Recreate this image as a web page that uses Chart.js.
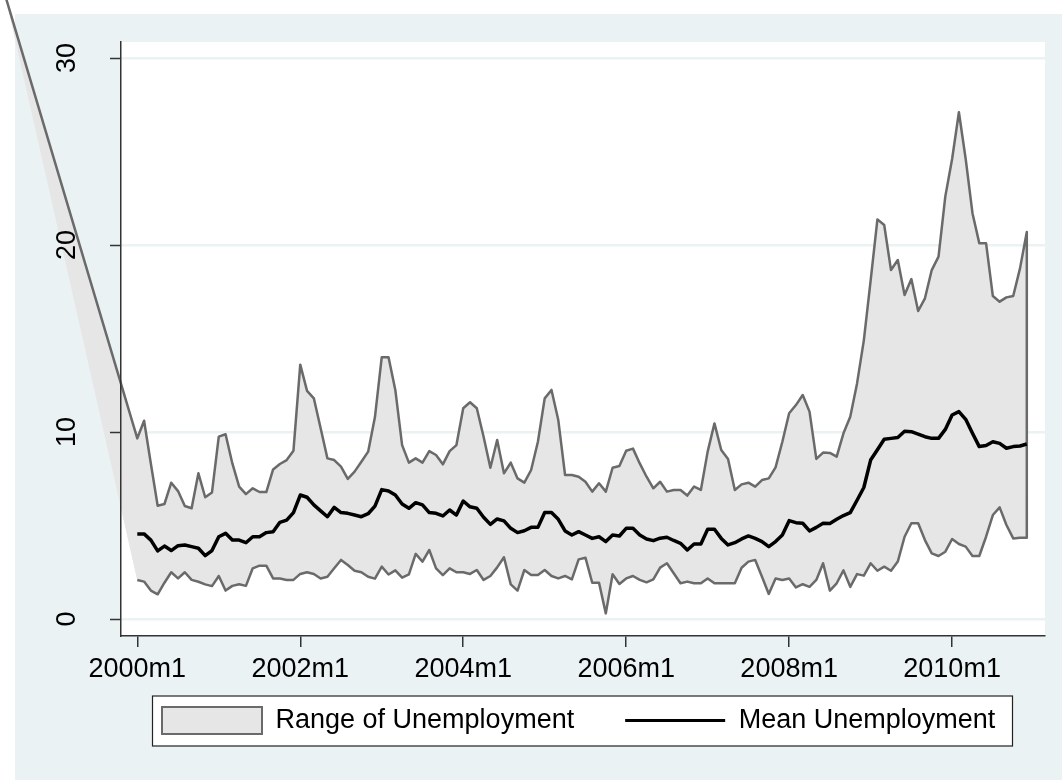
<!DOCTYPE html>
<html>
<head>
<meta charset="utf-8">
<script src="https://cdn.jsdelivr.net/npm/chart.js@4/dist/chart.umd.min.js"></script>
<style>
html,body{margin:0;padding:0;background:#fff;overflow:hidden}
#wrap{width:1062px;height:780px}
</style>
</head>
<body>
<div id="wrap"><canvas id="c" width="1062" height="780"></canvas></div>
<script>
// ---- data (monthly, 2000m1 .. 2010m12) ----
const upperUnemp = [
  9.66,10.6,8.3,6.06,6.15,7.29,6.84,6.04,5.92,7.79,6.51,6.77,
  9.75,9.88,8.32,7.08,6.68,6.99,6.79,6.79,8.0,8.29,8.5,9.0,
  13.6,12.2,11.8,10.2,8.59,8.5,8.15,7.49,7.88,8.41,8.95,10.8,
  14.0,14.0,12.25,9.3,8.36,8.59,8.36,8.98,8.77,8.27,8.98,9.3,
  11.27,11.59,11.27,9.75,8.09,9.57,7.79,8.36,7.52,7.29,7.97,9.48,
  11.8,12.25,10.64,7.7,7.7,7.61,7.34,6.81,7.26,6.81,8.09,8.18,
  9.0,9.11,8.32,7.61,6.99,7.34,6.81,6.9,6.9,6.6,7.08,6.9,
  8.95,10.46,9.04,8.56,6.9,7.2,7.29,7.08,7.43,7.52,8.11,9.48,
  11.0,11.44,11.98,11.09,8.56,8.9,8.88,8.68,9.93,10.82,12.6,14.9,
  18.1,21.37,21.07,18.66,19.2,17.33,18.18,16.47,17.15,18.66,19.38,22.6,
  24.6,27.1,24.6,21.7,20.1,20.1,17.27,16.97,17.2,17.27,18.75,20.7
];
const lowerUnemp = [
  2.09,2.0,1.52,1.32,1.94,2.5,2.17,2.5,2.09,1.99,1.85,1.76,
  2.3,1.52,1.77,1.86,1.77,2.71,2.85,2.85,2.17,2.17,2.09,2.09,
  2.41,2.5,2.41,2.17,2.26,2.71,3.16,2.89,2.58,2.5,2.26,2.16,
  2.8,2.38,2.6,2.21,2.39,3.48,3.07,3.69,2.71,2.35,2.71,2.5,
  2.5,2.41,2.62,2.09,2.3,2.76,3.3,1.85,1.52,2.62,2.35,2.35,
  2.62,2.3,2.17,2.3,2.12,3.19,3.28,1.94,1.94,0.3,2.39,1.87,
  2.17,2.3,2.09,1.96,2.12,2.75,2.98,2.45,1.91,2.0,1.91,1.91,
  2.17,1.91,1.91,1.91,1.91,2.74,3.07,3.16,2.26,1.34,2.17,2.09,
  2.17,1.69,1.86,1.72,2.09,2.98,1.52,1.91,2.6,1.72,2.4,2.32,
  2.98,2.58,2.8,2.58,3.07,4.4,5.12,5.12,4.22,3.51,3.37,3.6,
  4.28,4.01,3.87,3.37,3.37,4.4,5.56,5.97,5.03,4.31,4.35,4.35
];
const meanUnemp = [
  4.55,4.55,4.22,3.64,3.9,3.66,3.92,3.96,3.87,3.78,3.39,3.66,
  4.4,4.58,4.22,4.22,4.08,4.4,4.4,4.62,4.67,5.17,5.29,5.69,
  6.63,6.51,6.1,5.78,5.47,5.97,5.69,5.65,5.56,5.47,5.63,6.04,
  6.92,6.85,6.63,6.15,5.92,6.22,6.1,5.69,5.65,5.51,5.83,5.56,
  6.31,6.0,5.92,5.44,5.06,5.35,5.25,4.85,4.62,4.72,4.9,4.9,
  5.69,5.69,5.33,4.71,4.49,4.67,4.49,4.31,4.4,4.14,4.49,4.44,
  4.85,4.85,4.49,4.28,4.19,4.32,4.37,4.2,4.05,3.69,4.01,4.01,
  4.8,4.8,4.31,3.96,4.08,4.28,4.44,4.31,4.14,3.87,4.14,4.49,
  5.26,5.15,5.12,4.71,4.9,5.12,5.11,5.33,5.53,5.69,6.35,7.03,
  8.5,9.05,9.61,9.66,9.71,10.04,10.02,9.89,9.75,9.66,9.66,10.14,
  10.91,11.09,10.68,9.93,9.22,9.28,9.48,9.39,9.13,9.22,9.25,9.36
];
// stray leading vertex of the range area (lies off the plot region)
const rangeLeadMonth = [-19.5];
const rangeLeadValue = [33.4];

const monthIndex = upperUnemp.map((_, i) => i);   // 0 = 2000m1
const xTickValues = [0, 24, 48, 72, 96, 120];
const xTickLabels = ['2000m1', '2002m1', '2004m1', '2006m1', '2008m1', '2010m1'];
const yTickValues = [0, 10, 20, 30];
const yTickLabels = ['0', '10', '20', '30'];
const seriesNames = ['Range of Unemployment', 'Mean Unemployment'];

// ---- build datasets ----
const rangePolygon = [{x: rangeLeadMonth[0], y: rangeLeadValue[0]}]
  .concat(monthIndex.map(i => ({x: i, y: upperUnemp[i]})))
  .concat(monthIndex.slice().reverse().map(i => ({x: i, y: lowerUnemp[i]})));
const meanLine = monthIndex.map(i => ({x: i, y: meanUnemp[i]}));

const FONT = {family: "'Liberation Sans', Arial, Helvetica, sans-serif", size: 27};
const AXIS = '#333333';
const BG = '#eaf2f3';
const RANGE_FILL = '#e6e6e6';
const RANGE_LINE = '#6a6a6a';

const bgPlugin = {
  id: 'stataBg',
  afterLayout(chart) {
    // place the legend row the way the original framed legend sits
    const lg = chart.legend;
    if (!lg) return;
    const w = lg.width, h = lg.height;
    lg.left = 111; lg.right = lg.left + w;
    lg.top = 656; lg.bottom = lg.top + h;
  },
  beforeDraw(chart) {
    const {ctx, chartArea: a} = chart;
    ctx.save();
    ctx.fillStyle = '#ffffff';
    ctx.fillRect(0, 0, chart.width, chart.height);
    ctx.fillStyle = BG;
    ctx.fillRect(15, 14, chart.width - 15, chart.height - 14);
    ctx.fillStyle = '#ffffff';
    ctx.fillRect(a.left, a.top, a.right - a.left, a.bottom - a.top);
    const lg = chart.legend;
    if (lg && lg.legendHitBoxes && lg.legendHitBoxes.length) {
      const hb = lg.legendHitBoxes;
      const cy = hb[0].top + hb[0].height / 2;
      const l = hb[0].left - 10, r = a.right - 33;
      ctx.fillStyle = '#ffffff';
      ctx.fillRect(l, cy - 25, r - l, 50);
      ctx.strokeStyle = '#222222';
      ctx.lineWidth = 1.2;
      ctx.strokeRect(l + 0.5, cy - 25 + 0.5, r - l, 50);
    }
    ctx.restore();
  },
  beforeDatasetsDraw(chart) {
    // part of the range area that falls outside the plot region (left of 2000m1)
    const {ctx} = chart;
    const xs = chart.scales.x, ys = chart.scales.y;
    ctx.save();
    ctx.fillStyle = RANGE_FILL;
    ctx.beginPath();
    ctx.moveTo(xs.getPixelForValue(rangeLeadMonth[0]), ys.getPixelForValue(rangeLeadValue[0]));
    ctx.lineTo(xs.getPixelForValue(monthIndex[0]), ys.getPixelForValue(upperUnemp[0]));
    ctx.lineTo(xs.getPixelForValue(monthIndex[0]), ys.getPixelForValue(lowerUnemp[0]));
    ctx.closePath();
    ctx.fill();
    ctx.restore();
  }
};

const setTicks = vals => s => { s.ticks = vals.map(v => ({value: v})); };

new Chart(document.getElementById('c'), {
  type: 'line',
  data: {
    datasets: [
      {
        label: seriesNames[1],
        data: meanLine,
        borderColor: '#000000',
        borderWidth: 3.5,
        pointRadius: 0,
        fill: false,
        tension: 0,
        borderJoinStyle: 'round',
        xAxisID: 'x', yAxisID: 'y'
      },
      {
        label: seriesNames[0],
        data: rangePolygon,
        borderColor: RANGE_LINE,
        backgroundColor: RANGE_FILL,
        borderWidth: 2.5,
        pointRadius: 0,
        fill: 'shape',
        tension: 0,
        borderJoinStyle: 'round',
        clip: false,
        xAxisID: 'x', yAxisID: 'y'
      }
    ]
  },
  options: {
    responsive: false,
    animation: false,
    events: [],
    layout: {padding: {left: 15, right: 17, top: 42, bottom: 10}},
    plugins: {
      tooltip: {enabled: false},
      legend: {
        position: 'bottom',
        align: 'start',
        fullSize: true,
        labels: {
          usePointStyle: true,
          pointStyleWidth: 100,
          boxHeight: 28,
          padding: 51,
          color: '#000000',
          font: FONT,
          generateLabels: () => [
            {text: seriesNames[0], fillStyle: RANGE_FILL, strokeStyle: RANGE_LINE, lineWidth: 2,
             pointStyle: 'rect', hidden: false, datasetIndex: 1, fontColor: '#000'},
            {text: seriesNames[1], fillStyle: 'rgba(0,0,0,0)', strokeStyle: '#000000', lineWidth: 3,
             pointStyle: 'line', hidden: false, datasetIndex: 0, fontColor: '#000'}
          ]
        }
      }
    },
    scales: {
      x: {
        type: 'linear',
        position: 'bottom',
        min: -2.4,
        max: 133.68,
        afterBuildTicks: setTicks(xTickValues),
        afterFit: s => { s.height = 46; s.paddingLeft = 0; s.paddingRight = 0; },
        ticks: {
          callback: v => xTickLabels[xTickValues.indexOf(v)],
          autoSkip: false, maxRotation: 0, minRotation: 0,
          padding: 6, color: '#000000', font: FONT, z: 1
        },
        grid: {drawOnChartArea: false, tickLength: 11, color: AXIS, lineWidth: 1.5, z: 1},
        border: {display: true, color: AXIS, width: 1.5, z: 1}
      },
      y: {
        type: 'linear',
        position: 'left',
        min: -0.909,
        max: 30.856,
        afterBuildTicks: setTicks(yTickValues),
        afterFit: s => { s.width = 106; s.paddingTop = 0; s.paddingBottom = 0; },
        ticks: {
          callback: v => yTickLabels[yTickValues.indexOf(v)],
          minRotation: 90, maxRotation: 90, crossAlign: 'center',
          padding: 27, color: '#000000', font: FONT, z: 1
        },
        grid: {drawOnChartArea: false, tickLength: 11, tickColor: AXIS, tickWidth: 1.5, color: AXIS, z: 1},
        border: {display: true, color: AXIS, width: 1.5, z: 1}
      },
      yGrid: {
        type: 'linear',
        position: 'left',
        min: -0.909,
        max: 30.856,
        afterBuildTicks: setTicks(yTickValues),
        afterFit: s => { s.width = 0; s.paddingTop = 0; s.paddingBottom = 0; },
        ticks: {display: false},
        grid: {drawOnChartArea: true, drawTicks: false, color: BG, lineWidth: 2.5},
        border: {display: false}
      }
    }
  },
  plugins: [bgPlugin]
});
</script>
</body>
</html>
